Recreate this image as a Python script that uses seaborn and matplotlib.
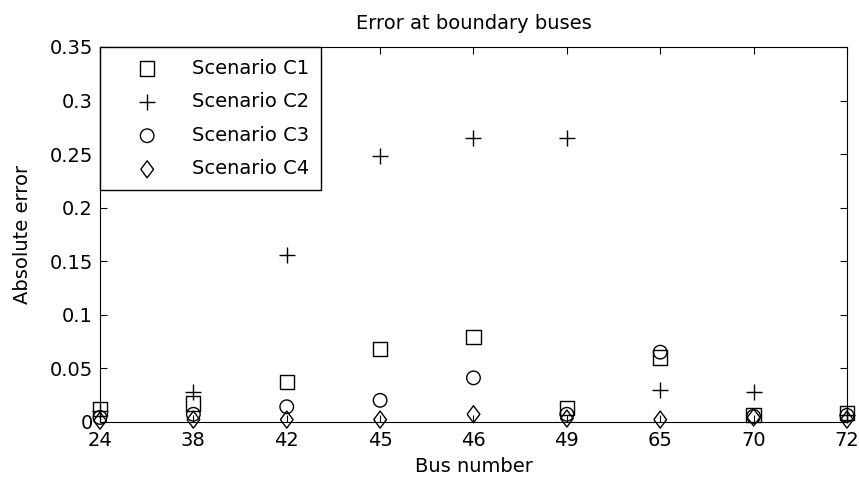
import matplotlib
matplotlib.use('Agg')
import matplotlib.pyplot as plt
from matplotlib.ticker import FuncFormatter
import seaborn as sns

# values
buses = ['24', '38', '42', '45', '46', '49', '65', '70', '72']
c1 = [0.012, 0.017, 0.037, 0.068, 0.079, 0.013, 0.060, 0.006, 0.008]
c2 = [0.010, 0.028, 0.156, 0.248, 0.265, 0.265, 0.030, 0.028, 0.006]
c3 = [0.004, 0.007, 0.014, 0.020, 0.041, 0.007, 0.065, 0.005, 0.006]
c4 = [0.001, 0.002, 0.002, 0.002, 0.007, 0.003, 0.002, 0.004, 0.002]
labels = ['Scenario C1', 'Scenario C2', 'Scenario C3', 'Scenario C4']

sns.set_style('ticks', rc={
    'axes.edgecolor': 'black',
    'axes.linewidth': 0.8,
    'axes.labelcolor': 'black',
    'text.color': 'black',
    'xtick.direction': 'in',
    'ytick.direction': 'in',
    'xtick.top': True,
    'ytick.right': True,
    'xtick.color': 'black',
    'ytick.color': 'black',
})
plt.rcParams['font.family'] = ['DejaVu Sans']
plt.rcParams['font.size'] = 14

fig = plt.figure(figsize=(8.59, 4.82), dpi=100)
ax = fig.add_axes([0.1164, 0.125, 0.8696, 0.7775])

diamond = [(-0.75, 0), (0, 1), (0.75, 0), (0, -1), (-0.75, 0)]

sns.scatterplot(x=buses, y=c1, marker='s', s=105, facecolor='none', edgecolor='black',
                linewidth=1, label=labels[0], clip_on=False, zorder=3, ax=ax)
sns.scatterplot(x=buses, y=c2, marker='+', s=130, color='black',
                linewidth=1, label=labels[1], clip_on=False, zorder=3, ax=ax)
sns.scatterplot(x=buses, y=c3, marker='o', s=95, facecolor='none', edgecolor='black',
                linewidth=1, label=labels[2], clip_on=False, zorder=3, ax=ax)
sns.scatterplot(x=buses, y=c4, marker=diamond, s=150, facecolor='none', edgecolor='black',
                linewidth=1, label=labels[3], clip_on=False, zorder=3, ax=ax)

ax.set_xlim(0, len(buses) - 1)
ax.set_ylim(0, 0.35)
ax.set_yticks([0, 0.05, 0.1, 0.15, 0.2, 0.25, 0.3, 0.35])
ax.yaxis.set_major_formatter(FuncFormatter(lambda v, p: f'{v:g}'))
ax.tick_params(axis='both', length=5, width=0.8, labelsize=14)
ax.tick_params(axis='x', pad=7)
ax.tick_params(axis='y', pad=5)

ax.set_title('Error at boundary buses', fontsize=14, pad=13)
ax.set_xlabel('Bus number', fontsize=14, labelpad=5)
ax.set_ylabel('Absolute error', fontsize=14, labelpad=13)

leg = ax.legend(loc='upper left', borderaxespad=0, fancybox=False, edgecolor='black',
                framealpha=1, fontsize=14, handletextpad=0.5, labelspacing=0.75,
                borderpad=0.6, handlelength=3.65)
leg.get_frame().set_linewidth(1)

fig.savefig('out.png', dpi=100)
